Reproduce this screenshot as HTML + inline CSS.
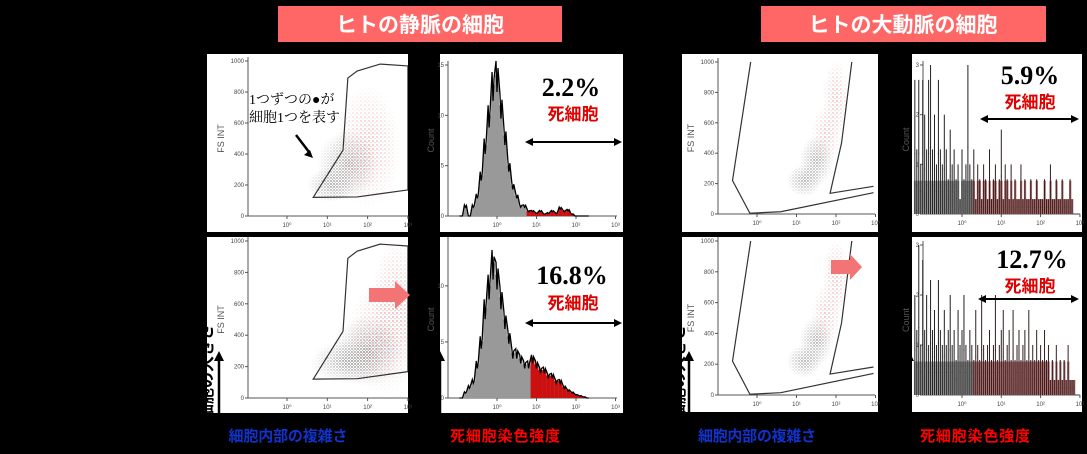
<!DOCTYPE html>
<html><head><meta charset="utf-8"><style>
html,body{margin:0;padding:0;background:#000;}
svg{display:block;font-family:"Liberation Sans","Noto Sans CJK JP",sans-serif;}
</style></head><body>
<svg id="fig" width="1087" height="454" viewBox="0 0 1087 454" xmlns="http://www.w3.org/2000/svg">
<defs>
<pattern id="dotsGrey" width="3" height="3" patternUnits="userSpaceOnUse"><circle cx="1" cy="1" r="0.7" fill="#444"/><circle cx="2.5" cy="2.3" r="0.5" fill="#888"/></pattern>
<pattern id="dotsRed" width="4" height="4" patternUnits="userSpaceOnUse"><circle cx="1" cy="1" r="0.6" fill="#e02020"/><circle cx="3" cy="2.8" r="0.5" fill="#888"/></pattern>
<radialGradient id="fade"><stop offset="0" stop-color="#fff" stop-opacity="0.9"/><stop offset="0.6" stop-color="#fff" stop-opacity="0.4"/><stop offset="1" stop-color="#fff" stop-opacity="0"/></radialGradient>
</defs>
<rect x="0" y="0" width="1087" height="454" fill="#000"/>
<rect x="278" y="6" width="284" height="36" fill="#ff6666"/>
<text x="420" y="32" fill="#fff" font-size="21" font-weight="bold" text-anchor="middle">ヒトの静脈の細胞</text>
<rect x="761" y="6" width="285" height="36" fill="#ff6666"/>
<text x="903" y="32" fill="#fff" font-size="21" font-weight="bold" text-anchor="middle">ヒトの大動脈の細胞</text>
<g id="panels"></g>
<g id="overlay"></g>
</svg>
<script>
// ---- data ----
const histBinsLeft = [-0.9,-0.8,-0.7,-0.6,-0.5,-0.4,-0.3,-0.2,-0.1,0,0.1,0.2,0.3,0.4,0.5,0.6,0.7,0.8,0.9,1.0,1.1,1.2,1.3,1.4,1.5,1.6,1.7,1.8,1.9,2.0,2.1,2.2,2.3];
const histVeinTop = [0,1,0,1,2,4,7,10,13,14,11,8,5,3,2,1,1,0.5,0.5,0.3,0.5,0.2,0.3,0.5,0.3,0.8,0.5,0.6,0.2,0,0,0,0];
const histVeinBottom = [0,0.5,1,1.5,3,5,8,10,12,11,9,7,5.5,4,4,3.5,3,3,3.5,3,2.5,2.5,2,2,1.5,1.5,1,0.7,0.5,0.3,0.2,0.1,0];
const histRightStart = -1.2, histRightStep = 0.05;
const histAortaTop = [2.7,1.3,2.7,1,2.7,2,1.3,2.7,3,1.3, 2,1,2.7,1.3,1,2,1.3,0.7,1.7,1, 1.3,0.7,1,0.3,1.3,0.7,1,3,1,0.7, 1.3,0.3,1,0.7,0.3,1,0.7,0.3,1.3,0.3, 0.7,1,0.3,0.7,1.7,0.3,1,0.7,0.3,1, 0.3,0.7,0.3,0.3,1,0.3,0.7,0.3,0.3,0.7, 0.3,0.3,0.7,0.3,0.3,0.3,0.7,0.3,0.3,1, 0.3,0.3,0.7,0.3,0.3,0.7,0.3,0.3,0.3,0.7, 0.3,0,0,0];
const histAortaBottom = [2,1.3,3,1,2.7,1.3,2,1,2.3,1.3, 1.7,1,2.3,1.3,1,1.7,1,1.3,2,1, 1.3,0.7,1.7,1,1.3,2,1,0.7,1.3,1, 0.7,1.7,1,0.7,2,1,0.7,1,1.3,0.7, 1,2,0.7,1,1.3,1.7,0.7,1,1.3,0.7, 1.7,0.7,1,1.3,0.7,1,1.3,0.7,1.7,0.7, 1,0.7,1.3,0.7,1,0.7,1.3,0.7,1,0.3, 0.7,0.3,1,0.3,0.7,0.3,0.7,0.3,1,0.3, 0.3,0.3,0,0];
const gateVeinX = [0.65,1.39,1.51,1.74,2.31,3.0,3.0,1.74];
const gateVeinY = [120,425,890,935,980,968,168,123];
const gateAortaAX = [-0.16,-0.62,-0.18,0.6,2.95];
const gateAortaAY = [1000,220,5,15,140];
const gateAortaBX = [2.4,2.14,1.85,2.95];
const gateAortaBY = [1000,467,136,182];
const cloudVeinTopX=[1.1,1.5,2.0], cloudVeinTopY=[200,330,450], cloudVeinTopSX=[0.4,0.5,0.55], cloudVeinTopSY=[75,150,260], cloudVeinTopK=['g','g','r'];
const cloudVeinBotX=[1.5,2.0,2.4,2.7], cloudVeinBotY=[230,300,400,620], cloudVeinBotSX=[0.6,0.6,0.6,0.4], cloudVeinBotSY=[90,150,250,260], cloudVeinBotK=['g','g','r','r'];
const cloudAortaX=[1.2,1.5,1.75,2.0], cloudAortaY=[220,350,520,760], cloudAortaSX=[0.3,0.28,0.25,0.22], cloudAortaSY=[70,110,140,170], cloudAortaK=['g','g','r','r'];
const xTicks=[0,1,2,3], scatterYTicks=[0,200,400,600,800,1000];

const NS="http://www.w3.org/2000/svg";
let uid=0;
function el(tag,attrs,parent){const e=document.createElementNS(NS,tag);for(const k in attrs)e.setAttribute(k,attrs[k]);(parent||document.getElementById('panels')).appendChild(e);return e;}

function axes(g,p,yTicks,ylabel,loff){
  const xs=v=>p.x0+(v-p.l0)*p.dec, ys=v=>p.y0-(v/p.ymax)*(p.y0-p.y1);
  const ax=el('path',{d:`M${p.ax} ${p.y1-4}V${p.y0}H${p.right}`,stroke:'#555','stroke-width':1,fill:'none'},g);
  
  yTicks.forEach(t=>{const y=ys(t);
    el('line',{x1:p.ax-3,x2:p.ax,y1:y,y2:y,stroke:'#555'},g);
    const tx=el('text',{x:p.ax-4,y:y+2,'font-size':6,fill:'#444','text-anchor':'end'},g);tx.textContent=t;
    });
  xTicks.forEach(t=>{const x=xs(t);
    el('line',{x1:x,x2:x,y1:p.y0,y2:p.y0+3,stroke:'#555'},g);
    const tx=el('text',{x:x,y:p.y0+11,'font-size':6,fill:'#444','text-anchor':'middle'},g);tx.textContent='10'+['⁰','¹','²','³'][t];
    });
  const yl=el('text',{x:0,y:0,'font-size':9,fill:'#555','text-anchor':'middle',transform:`translate(${p.ax-loff},${(p.y0+p.y1)/2}) rotate(-90)`},g);
  yl.textContent=ylabel;
  return {xs,ys};
}

function scatter(box,p,gates,clouds){
  const g=el('g',{});
  const r=el('rect',{x:box.x,y:box.y,width:box.w,height:box.h,fill:'#fff'},g);
  const {xs,ys}=axes(g,p,scatterYTicks,'FS INT',24);
  const clip='c'+box.name;const cp=el('clipPath',{id:clip},g);el('rect',{x:p.ax,y:p.y1-4,width:p.right-p.ax,height:p.y0-p.y1+4},cp);
  const cg=el('g',{'clip-path':`url(#${clip})`},g);
  clouds.X.forEach((cx,i)=>{
    const id='m'+(uid++);
    const m=el('mask',{id},cg);
    const a={cx:xs(cx),cy:ys(clouds.Y[i]),rx:clouds.SX[i]*p.dec*1.5,ry:clouds.SY[i]/p.ymax*(p.y0-p.y1)*1.5};
    el('ellipse',Object.assign({fill:'url(#fade)'},a),m);
    const e=el('ellipse',Object.assign({fill:clouds.K[i]==='g'?'url(#dotsGrey)':'url(#dotsRed)',mask:`url(#${id})`},a),cg);
    
  });
  gates.forEach(gt=>{
    const d=gt.X.map((v,i)=>(i?'L':'M')+xs(v)+' '+ys(gt.Y[i])).join('')+(gt.closed?'Z':'');
    const pa=el('path',{d,stroke:'#333','stroke-width':1.2,fill:'none'},cg);
    
  });
}

function hist(box,p,bins,vals,yTicks,redFrom,spiky){
  const g=el('g',{});
  const r=el('rect',{x:box.x,y:box.y,width:box.w,height:box.h,fill:'#fff'},g);
  const {xs,ys}=axes(g,p,yTicks,'Count',14);
  const half=p.step/2;
  if(!spiky){
    let d=`M${xs(bins[0]-half)} ${ys(0)}`;
    bins.forEach((b,i)=>{d+=`L${xs(b-half)} ${ys(vals[i])}L${xs(b+half)} ${ys(vals[i])}`;});
    d+=`L${xs(bins[bins.length-1]+half)} ${ys(0)}Z`;
    const f=el('path',{d,fill:'#999',stroke:'none'},g);
    bins.forEach((b,i)=>{if(b>=redFrom){const rr=el('rect',{x:xs(b-half),y:ys(vals[i]),width:xs(b+half)-xs(b-half),height:ys(0)-ys(vals[i]),fill:'#cc1010'},g);
      }});
    let o=`M${xs(bins[0]-half)} ${ys(0)}`;
    bins.forEach((b,i)=>{const v=vals[i];o+=`L${xs(b-half*0.5)} ${ys(v*1.1)}L${xs(b)} ${ys(v*0.88)}L${xs(b+half*0.5)} ${ys(v*1.05)}`;});
    const ol=el('path',{d:o,fill:'none',stroke:'#000','stroke-width':1.3},g);
  } else {
    bins.forEach((b,i)=>{const v=vals[i];const fv=Math.min(v,0.67);
      const rr=el('rect',{x:xs(b-half),y:ys(fv),width:xs(b+half)-xs(b-half)+0.3,height:ys(0)-ys(fv),fill:b>=redFrom?'#b87070':'#a0a0a0'},g);
      
      const l=el('path',{d:`M${xs(b)} ${ys(0)}V${ys(v)}M${xs(b-half*0.6)} ${ys(v*0.45)}H${xs(b+half*0.6)}`,fill:'none',stroke:b>=redFrom?'#302020':'#222','stroke-width':1},g);
      });
  }
}
const binsAortaTop=histAortaTop.map((_,i)=>histRightStart+histRightStep*i);
const binsAortaBottom=histAortaBottom.map((_,i)=>histRightStart+histRightStep*i);

scatter({name:'vein-top-scatter',x:207,y:54,w:201,h:178},{ax:248,x0:287,l0:0,dec:40.3,y0:216,y1:61,ymax:1000,right:408},
  [{X:gateVeinX,Y:gateVeinY,closed:true}],{X:cloudVeinTopX,Y:cloudVeinTopY,SX:cloudVeinTopSX,SY:cloudVeinTopSY,K:cloudVeinTopK});
hist({name:'vein-top-histogram',x:440,y:54,w:183,h:178},{ax:448,x0:497,l0:0,dec:39.5,y0:216,y1:65,ymax:15,right:617,step:0.1},
  histBinsLeft,histVeinTop,[0,5,10,15],0.8,false);
scatter({name:'vein-bottom-scatter',x:207,y:237,w:201,h:176},{ax:248,x0:287,l0:0,dec:40.3,y0:398,y1:241,ymax:1000,right:408},
  [{X:gateVeinX,Y:gateVeinY,closed:true}],{X:cloudVeinBotX,Y:cloudVeinBotY,SX:cloudVeinBotSX,SY:cloudVeinBotSY,K:cloudVeinBotK});
hist({name:'vein-bottom-histogram',x:440,y:237,w:183,h:176},{ax:448,x0:497,l0:0,dec:39.5,y0:398,y1:241,ymax:14,right:617,step:0.1},
  histBinsLeft,histVeinBottom,[0,5,10],0.85,false);
scatter({name:'aorta-top-scatter',x:682,y:54,w:196,h:178},{ax:718,x0:757,l0:0,dec:39.5,y0:214,y1:62,ymax:1000,right:875},
  [{X:gateAortaAX,Y:gateAortaAY,closed:false},{X:gateAortaBX,Y:gateAortaBY,closed:false}],{X:cloudAortaX,Y:cloudAortaY,SX:cloudAortaSX,SY:cloudAortaSY,K:cloudAortaK});
hist({name:'aorta-top-histogram',x:912,y:54,w:170,h:178},{ax:923,x0:962,l0:0,dec:39.3,y0:214,y1:65,ymax:3,right:1080,step:histRightStep},
  binsAortaTop,histAortaTop,[0,1,2,3],0.3,true);
scatter({name:'aorta-bottom-scatter',x:682,y:237,w:196,h:175},{ax:718,x0:757,l0:0,dec:39.5,y0:395,y1:241,ymax:1000,right:875},
  [{X:gateAortaAX,Y:gateAortaAY,closed:false},{X:gateAortaBX,Y:gateAortaBY,closed:false}],{X:cloudAortaX,Y:cloudAortaY,SX:cloudAortaSX,SY:cloudAortaSY,K:cloudAortaK});
hist({name:'aorta-bottom-histogram',x:912,y:237,w:170,h:175},{ax:923,x0:962,l0:0,dec:39.3,y0:395,y1:245,ymax:3,right:1080,step:histRightStep},
  binsAortaBottom,histAortaBottom,[0,1,2,3],0.3,true);
</script>
<script>
(function(){
const NS="http://www.w3.org/2000/svg";const ov=document.getElementById('overlay');
function t(x,y,s,opts,name){const e=document.createElementNS(NS,'text');e.setAttribute('x',x);e.setAttribute('y',y);
 for(const k in opts)e.setAttribute(k,opts[k]);e.textContent=s;
 
 
 ov.appendChild(e);return e;}
function p(d,opts,name){const e=document.createElementNS(NS,'path');e.setAttribute('d',d);for(const k in opts)e.setAttribute(k,opts[k]);
 
 
 ov.appendChild(e);return e;}
const serif={'font-family':'"Liberation Serif",serif','font-weight':'bold',fill:'#000','text-anchor':'middle'};
const red={'font-weight':'bold',fill:'#e00000','font-size':17,'text-anchor':'middle'};
function dbl(x1,x2,y,name){p(`M${x1+6} ${y}H${x2-6}`,{stroke:'#000','stroke-width':2},name);
 p(`M${x1} ${y}l8 -4v8z M${x2} ${y}l-8 -4v8z`,{fill:'#000'},name+'-heads');}
t(571,96,'2.2%',Object.assign({'font-size':26},serif),'vein-top-percent');
t(573,120,'死細胞',red,'vein-top-dead-label');
dbl(525,622,142,'vein-top-range-arrow');
t(572,284,'16.8%',Object.assign({'font-size':26},serif),'vein-bottom-percent');
t(573,309,'死細胞',red,'vein-bottom-dead-label');
dbl(525,622,323,'vein-bottom-range-arrow');
t(1030,84,'5.9%',Object.assign({'font-size':26},serif),'aorta-top-percent');
t(1030,108,'死細胞',red,'aorta-top-dead-label');
dbl(980,1079,119,'aorta-top-range-arrow');
t(1032,268,'12.7%',Object.assign({'font-size':26},serif),'aorta-bottom-percent');
t(1030,292,'死細胞',red,'aorta-bottom-dead-label');
dbl(978,1079,299,'aorta-bottom-range-arrow');
t(249,104,'1つずつの●が',{'font-family':'"Liberation Serif","Noto Serif CJK SC",serif','font-size':14,fill:'#000'},'dot-annotation-line1');
t(249,122,'細胞1つを表す',{'font-family':'"Liberation Serif","Noto Serif CJK SC",serif','font-size':14,fill:'#000'},'dot-annotation-line2');
p('M296 135L309 152',{stroke:'#000','stroke-width':2.5},'annotation-arrow');
p('M313 158l-9 -3l6 -5z',{fill:'#000'},'annotation-arrow-head');
p('M369 288h26v-7l15 14l-15 14v-7h-26z',{fill:'#f27474'},'vein-shift-arrow');
p('M831 260h19v-6l12 13l-12 13v-6h-19z',{fill:'#f27474'},'aorta-shift-arrow');
function vlab(x,y,s,name){t(0,0,s,{'font-size':16,'font-weight':'bold',fill:'#000',transform:`translate(${x},${y}) rotate(-90)`},name);}
vlab(212,420,'細胞の大きさ','size-axis-label-left');
vlab(435,414,'細胞数','count-axis-label-left');
vlab(684,420,'細胞の大きさ','size-axis-label-right');
vlab(906,414,'細胞数','count-axis-label-right');
[219,440,689,909].forEach(x=>{p(`M${x} 413V360`,{stroke:'#000','stroke-width':2.5},'vertical-axis-arrow');
 p(`M${x} 351l-5 10h10z`,{fill:'#000'},'vertical-axis-arrow-head');});
const blue={'font-weight':'bold',fill:'#1133cc','font-size':15,'text-anchor':'middle'};
const redb={'font-weight':'bold',fill:'#ff0000','font-size':15,'text-anchor':'middle'};
t(288,441,'細胞内部の複雑さ',Object.assign({textLength:119},blue),'complexity-axis-label-left');
t(505,441,'死細胞染色強度',Object.assign({textLength:110},redb),'dead-stain-axis-label-left');
t(757,441,'細胞内部の複雑さ',Object.assign({textLength:118},blue),'complexity-axis-label-right');
t(975,441,'死細胞染色強度',Object.assign({textLength:110},redb),'dead-stain-axis-label-right');
})();
</script>
</body></html>
